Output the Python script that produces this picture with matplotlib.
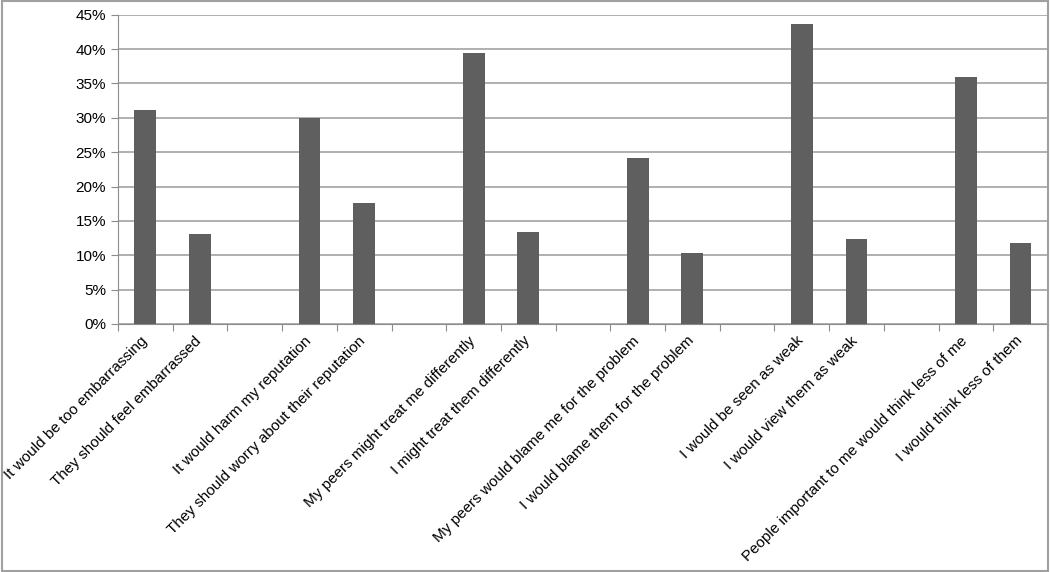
import matplotlib
matplotlib.use('Agg')
import matplotlib.pyplot as plt
from matplotlib.ticker import PercentFormatter
import matplotlib.transforms as mtransforms
import numpy as np

plt.rcParams['font.family'] = ['Liberation Sans', 'DejaVu Sans']

# Empty strings are the spacer slots between the pairs
categories = [
    'It would be too embarrassing', 'They should feel embarrassed', '',
    'It would harm my reputation', 'They should worry about their reputation', '',
    'My peers might treat me differently', 'I might treat them differently', '',
    'My peers would blame me for the problem', 'I would blame them for the problem', '',
    'I would be seen as weak', 'I would view them as weak', '',
    'People important to me would think less of me', 'I would think less of them',
]
values = [31.1, 13.1, 0, 30.0, 17.6, 0, 39.5, 13.4, 0,
          24.2, 10.3, 0, 43.6, 12.4, 0, 35.9, 11.8]

fig = plt.figure(figsize=(10.5, 5.72), dpi=100)
ax = fig.add_axes([0.1124, 0.4336, 0.8856, 0.5407])

x = np.arange(len(categories))
ax.bar(x, values, width=0.4, color='#5f5f5f', zorder=3)

ax.set_xlim(-0.5, len(categories) - 0.5)
ax.set_ylim(0, 45)
ax.set_yticks(np.arange(0, 46, 5))
ax.yaxis.set_major_formatter(PercentFormatter(decimals=0))
ax.grid(axis='y', color='#a3a3a3', linewidth=1.2, zorder=0)

# tick marks sit between categories, labels at the bar centres
ax.set_xticks(np.arange(-0.5, len(categories) + 0.5, 1))
ax.set_xticklabels([])
ax.set_xticks(x, minor=True)
ax.set_xticklabels(categories, minor=True, rotation=45, ha='right',
                   va='top', rotation_mode='anchor', fontsize=11)
ax.tick_params(axis='x', which='minor', length=0, pad=7)
ax.tick_params(axis='x', which='major', length=5, color='#8c8c8c')
ax.tick_params(axis='y', length=5, color='#8c8c8c', labelsize=11)

# nudge the rotated labels a little to the left
shift = mtransforms.ScaledTranslation(-4 / 72, 0, fig.dpi_scale_trans)
for lab in ax.get_xticklabels(minor=True):
    lab.set_transform(lab.get_transform() + shift)

for s in ['top', 'right']:
    ax.spines[s].set_visible(False)
for s in ['left', 'bottom']:
    ax.spines[s].set_color('#8c8c8c')

fig.patches.append(plt.Rectangle((0.002, 0.002), 0.996, 0.996, transform=fig.transFigure,
                                 fill=False, edgecolor='#a0a0a0', linewidth=1.5))

fig.savefig('out.png', dpi=100)
